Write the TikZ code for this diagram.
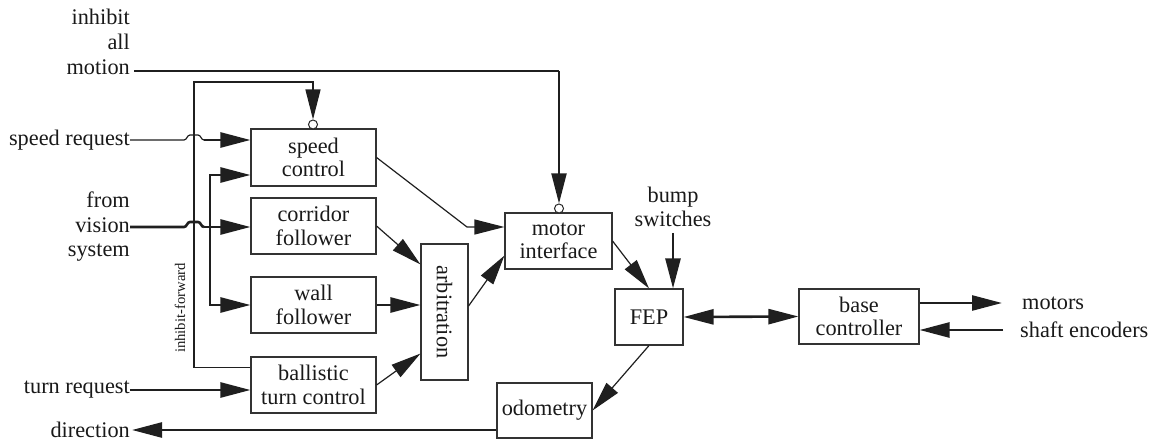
\documentclass[tikz,border=0pt]{standalone}
\usepackage{fontspec}
\setmainfont{Liberation Serif}
\usepackage{graphicx}
\usetikzlibrary{arrows.meta}
\begin{document}
\begin{tikzpicture}[x=1pt,y=-1pt,
  every node/.style={font=\fontsize{22.3}{23.5}\selectfont, text=black!90},
  box/.style={draw=black!80, line width=1.1pt, inner sep=0pt, align=center},
  lbl/.style={inner sep=0pt, align=right},
  ln/.style={line width=1.2pt, draw=black!88},
  tk/.style={line width=2.6pt, draw=black!88},
  md/.style={line width=1.9pt, draw=black!88},
  arr/.style={-{Triangle[length=30pt,width=15pt]}},
  inh/.style={circle, draw=black!85, line width=1pt, fill=white, inner sep=0pt, minimum size=9pt}]
\useasboundingbox (0,0) rectangle (1156,443);

% boxes
\node[box, minimum width=125pt, minimum height=57pt] (sc) at (313.5,157.5) {speed\\control};
\node[box, minimum width=125pt, minimum height=56pt] (cf) at (313.5,226) {corridor\\follower};
\node[box, minimum width=125pt, minimum height=56pt] (wf) at (313.5,305) {wall\\follower};
\node[box, minimum width=125pt, minimum height=56pt] (bt) at (313.5,385) {ballistic\\turn control};
\node[box, minimum width=47pt, minimum height=136pt] (arb) at (444.5,312) {\rotatebox{-90}{arbitration}};
\node[box, minimum width=107pt, minimum height=56pt] (mi) at (558.5,241) {motor\\interface};
\node[box, minimum width=68pt, minimum height=56pt] (fep) at (649,317) {FEP};
\node[box, minimum width=120pt, minimum height=55pt] (bc) at (859,316.5) {base\\controller};
\node[box, minimum width=95pt, minimum height=55pt] (od) at (544.5,410.5) {odometry};

% labels
\node[lbl, anchor=east, font=\fontsize{22.3}{25}\selectfont] (iam) at (130,42) {inhibit\\all\\motion};
\node[lbl, anchor=east] (sr) at (130,140) {speed request};
\node[lbl, anchor=east, font=\fontsize{22.3}{24.5}\selectfont] (vis) at (130,227) {from\\vision\\system};
\node[lbl, anchor=east] (tr) at (130,390) {turn request};
\node[lbl, anchor=east] (dir) at (130,430) {direction};
\node[lbl, align=center] (bs) at (673,207) {bump\\switches};
\node[lbl, anchor=west] (mot) at (1022,303) {motors};
\node[lbl, anchor=west] (se) at (1020,330) {shaft encoders};
\node[inner sep=0pt, rotate=90, font=\fontsize{14.7}{16}\selectfont] (ifl) at (180,308) {inhibit-forward};

% inhibit circles
\node[inh] (c1) at (313,124.5) {};
\node[inh] (c2) at (559,208.5) {};

% inhibit all motion
\coordinate (iamE) at (134,71);
\coordinate (iamK) at (559,71);
\draw[ln] (iamE) -- (iamK);
\draw[md, arr] (iamK) -- (c2.north);

% inhibit-forward loop
\coordinate (ifk) at (194,82);
\draw[ln, arr] ([yshift=-11pt]bt.north west) -| (ifk) -| (c1.north);

% speed request
\draw[ln] (sr.east) -- (184,140) .. controls (187,140) and (187,135) .. (190,135) -- (198,135) .. controls (201,135) and (201,140) .. (204,140);
\draw[tk, arr] (204,140) -- (sc.west |- sr.east);

% vision
\draw[tk] (vis.east) -- (184,227) .. controls (187,227) and (187,222) .. (190,222) -- (198,222) .. controls (201,222) and (201,227) .. (204,227);
\draw[tk, arr] (204,227) -- (cf.west |- vis.east);
\coordinate (vb) at (210,227);
\draw[tk, arr] (vb) |- ([yshift=-17.5pt]sc.west);
\draw[tk, arr] (vb) |- (wf.west);

% turn request / direction
\draw[tk, arr] (tr.east) -- (bt.west |- tr.east);
\draw[tk, arr] (od.west |- dir.east) -- ([xshift=2pt]dir.east);

% into arbitration
\draw[ln, arr] (cf.east) -- ([yshift=-21pt]arb.north west);
\draw[tk, arr] (wf.east) -- (wf.east -| arb.west);
\draw[ln, arr] (bt.east) -- ([yshift=27pt]arb.south west);

% into motor interface
\draw[ln, arr] ([yshift=6pt]arb.east) -- ([yshift=14pt]mi.south west);
\coordinate (k1) at (467,227);
\draw[ln, arr] (sc.east) -- (k1) -- (k1 -| mi.west);

% FEP
\draw[ln, arr] (mi.east) -- (fep.north);
\draw[tk, arr] ([yshift=-6pt]bs.south) -- (bs.south |- fep.north);
\draw[tk, {Triangle[length=30pt,width=15pt]}-{Triangle[length=30pt,width=15pt]}] (fep.east) -- (bc.west);
\draw[ln, arr] (fep.south) -- (od.east);

% base controller
\draw[tk, arr] (bc.east |- mot.west) -- ([xshift=-20pt]mot.west);
\draw[tk, arr] ([xshift=-17pt]se.west) -- (bc.east |- se.west);
\end{tikzpicture}
\end{document}
